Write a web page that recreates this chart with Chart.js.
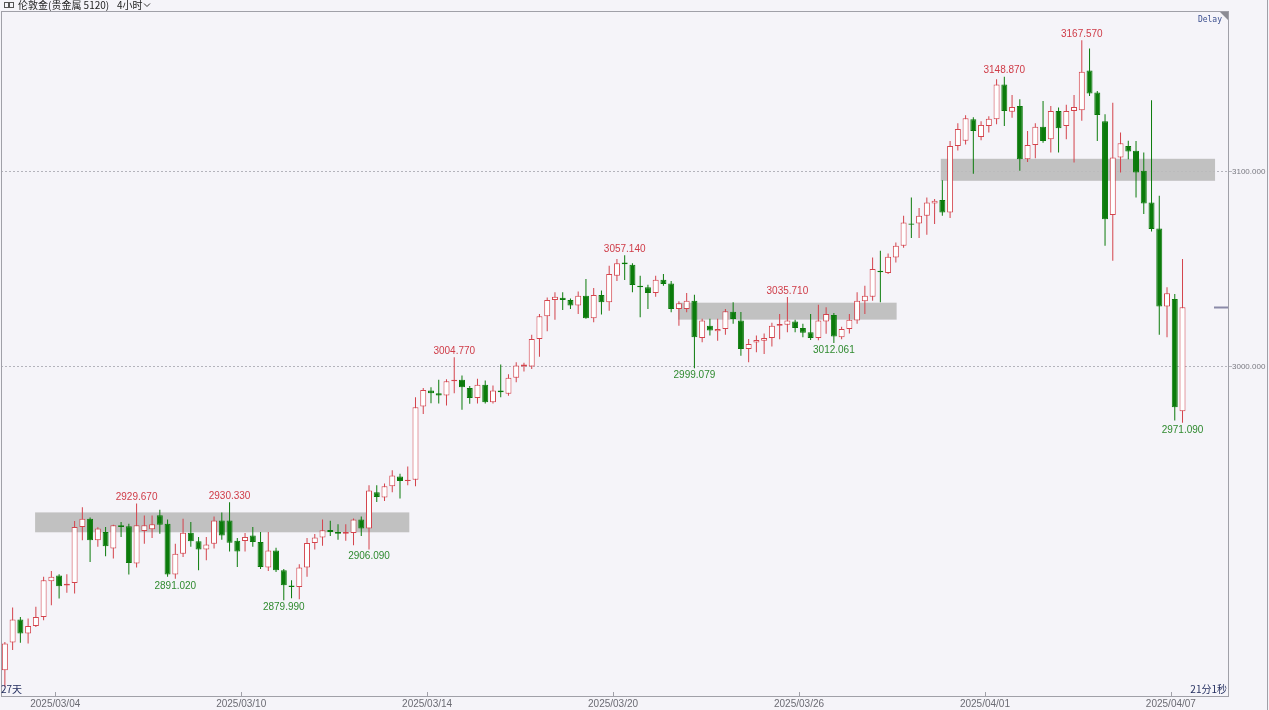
<!DOCTYPE html>
<html>
<head>
<meta charset="utf-8">
<script src="https://cdn.jsdelivr.net/npm/chart.js@4.4.1/dist/chart.umd.min.js"></script>
<style>
  html, body { margin: 0; padding: 0; background: #f5f4f9; }
  #wrap { width: 1269px; height: 710px; position: relative; }
</style>
</head>
<body>
<div id="wrap"><canvas id="kline"></canvas></div>
<script>
// 4h candles, London gold, oldest first
const opens = [2844.1,2858.3,2870.1,2862.9,2866.8,2871.4,2889.7,2892.7,2887.5,2888.9,
  2917.6,2921.9,2910.8,2915.0,2906.5,2918.5,2918.0,2898.8,2915.5,2916.5,
  2923.6,2919.3,2893.2,2903.9,2914.7,2910.3,2906.0,2909.0,2921.0,2921.0,
  2910.5,2910.4,2913.3,2909.9,2896.8,2905.6,2895.4,2887.5,2886.8,2896.8,
  2909.4,2912.2,2916.0,2915.0,2914.2,2914.5,2921.4,2916.8,2935.5,2932.7,
  2938.5,2943.6,2941.2,2941.9,2979.5,2987.7,2986.3,2985.1,2992.5,2993.2,
  2989.0,2983.9,2990.6,2981.7,2987.7,2986.0,2994.2,3000.0,3000.0,3014.2,
  3025.8,3034.2,3035.3,3034.2,3031.3,3036.4,3024.8,3036.8,3033.0,3046.7,
  3053.5,3052.3,3041.5,3040.7,3037.8,3044.6,3042.7,3029.6,3029.6,3033.8,
  3014.7,3021.0,3018.1,3019.3,3028.2,3023.6,3009.0,3012.3,3013.3,3014.7,
  3021.0,3021.5,3023.2,3019.8,3017.6,3014.7,3023.2,3026.5,3015.0,3019.3,
  3023.6,3033.5,3035.9,3049.2,3048.0,3056.0,3062.0,3073.5,3073.5,3077.4,
  3083.8,3085.5,3079.1,3113.3,3116.0,3127.0,3117.9,3123.6,3127.0,3144.9,
  3130.9,3133.8,3106.5,3113.8,3123.1,3116.8,3131.3,3123.6,3131.3,3131.6,
  3152.1,3140.7,3126.0,3077.8,3107.3,3113.3,3110.8,3100.5,3084.3,3070.9,
  3030.9,3034.7,2977.1];
const highs = [2858.5,2876.3,2871.4,2870.6,2876.6,2892.0,2895.0,2893.3,2893.3,2920.7,
  2927.8,2922.5,2917.5,2917.6,2918.8,2920.2,2919.3,2929.67,2923.5,2923.5,
  2926.5,2921.5,2909.0,2921.9,2920.2,2912.5,2912.5,2923.0,2925.0,2930.33,
  2912.0,2914.5,2917.6,2915.0,2915.0,2907.0,2896.0,2890.3,2898.5,2912.0,
  2914.0,2921.4,2920.8,2919.0,2919.0,2922.0,2923.0,2939.0,2939.0,2940.0,
  2946.7,2945.0,2948.7,2984.3,2989.0,2989.4,2993.2,2993.5,3004.77,2995.4,
  2990.0,2993.7,2992.8,2990.3,3001.0,2996.0,3002.2,3002.0,3016.4,3027.0,
  3035.5,3038.1,3038.1,3035.0,3038.6,3045.0,3040.3,3039.0,3051.8,3055.2,
  3057.14,3053.0,3046.7,3042.0,3046.7,3047.5,3044.0,3033.5,3037.8,3036.9,
  3024.5,3024.5,3024.5,3029.6,3033.0,3028.0,3014.2,3016.0,3017.0,3022.5,
  3027.0,3035.71,3024.0,3022.0,3027.0,3031.8,3030.4,3027.5,3020.5,3027.0,
  3038.1,3041.5,3056.0,3059.5,3058.0,3063.7,3077.4,3086.8,3081.4,3086.8,
  3086.0,3095.7,3115.9,3125.0,3129.0,3128.0,3126.0,3128.5,3147.5,3148.87,
  3139.5,3137.3,3121.0,3125.0,3136.4,3133.8,3133.0,3134.4,3139.5,3167.57,
  3163.4,3141.5,3129.6,3135.5,3120.2,3116.0,3115.9,3109.9,3136.8,3087.7,
  3040.7,3037.3,3055.2];
const lows = [2835.5,2854.4,2858.2,2857.8,2866.3,2869.7,2877.4,2880.9,2883.8,2883.4,
  2910.8,2899.6,2907.4,2902.6,2901.4,2912.5,2893.2,2896.8,2909.0,2912.0,
  2914.2,2892.0,2891.02,2902.2,2907.4,2895.4,2900.5,2906.5,2911.0,2905.0,
  2897.0,2905.0,2907.4,2896.0,2895.0,2894.5,2879.99,2881.0,2880.5,2892.0,
  2906.0,2908.0,2913.0,2911.0,2910.5,2908.2,2913.0,2906.09,2930.4,2930.9,
  2935.5,2932.3,2939.0,2938.5,2975.7,2981.2,2981.0,2980.0,2986.3,2977.8,
  2980.9,2981.0,2981.0,2981.0,2984.3,2985.0,2992.0,2997.5,2998.8,3005.1,
  3018.1,3024.1,3029.1,3029.5,3027.0,3024.5,3022.7,3026.7,3028.7,3044.0,
  3044.4,3038.1,3025.3,3029.6,3035.9,3041.5,3027.9,3021.0,3027.9,2999.079,
  3012.5,3015.9,3013.3,3016.4,3022.0,3005.6,3002.2,3007.3,3006.5,3010.3,
  3014.0,3017.6,3017.6,3015.0,3013.7,3013.5,3016.8,3012.061,3014.0,3017.0,
  3022.0,3027.0,3033.8,3033.0,3047.5,3053.5,3061.0,3066.0,3066.0,3067.7,
  3073.2,3077.4,3076.3,3111.0,3114.0,3099.0,3116.2,3120.2,3124.4,3123.6,
  3127.8,3100.5,3105.0,3107.0,3115.0,3109.9,3109.9,3116.8,3104.8,3126.2,
  3139.0,3115.9,3062.0,3054.4,3099.6,3106.5,3086.8,3078.3,3069.4,3016.4,
  3015.0,2972.3,2971.09];
const closes = [2857.8,2870.1,2862.9,2866.8,2871.4,2890.3,2892.0,2887.2,2888.5,2917.6,
  2921.9,2910.8,2916.8,2907.7,2918.5,2917.6,2899.1,2918.5,2918.5,2919.0,
  2918.8,2893.2,2903.9,2914.7,2910.3,2906.0,2908.6,2921.0,2913.3,2909.5,
  2905.0,2912.5,2909.9,2897.1,2905.6,2895.4,2887.7,2886.8,2896.8,2909.4,
  2912.2,2915.9,2915.0,2914.2,2915.0,2921.4,2916.8,2936.4,2933.0,2938.5,
  2944.1,2941.2,2941.9,2979.1,2988.0,2986.3,2985.1,2992.5,2993.2,2989.4,
  2983.9,2990.6,2981.7,2987.7,2986.8,2994.2,3000.5,3001.0,3014.2,3025.8,
  3034.2,3035.9,3034.2,3031.3,3036.4,3024.8,3036.8,3033.0,3047.5,3053.0,
  3052.5,3041.9,3040.7,3037.8,3044.6,3042.4,3029.6,3032.5,3033.8,3015.0,
  3023.6,3018.5,3019.3,3028.4,3024.4,3009.0,3011.6,3013.7,3014.7,3021.0,
  3021.9,3023.6,3019.8,3017.3,3014.7,3023.6,3027.0,3015.4,3019.3,3024.0,
  3033.8,3036.4,3050.1,3048.4,3056.4,3062.0,3074.0,3072.8,3077.4,3084.3,
  3085.1,3079.1,3113.3,3122.0,3127.5,3121.0,3124.1,3127.3,3144.9,3131.3,
  3133.3,3106.5,3113.8,3123.1,3115.9,3131.3,3122.4,3131.3,3133.3,3151.4,
  3140.2,3129.2,3075.7,3107.3,3114.7,3110.4,3099.6,3083.8,3070.6,3030.9,
  3037.6,2979.1,3030.4];

// date labels sit on the boundary before the first bar of the day
const dateTicks = [6.5, 30.5, 54.5, 78.5, 102.5, 126.5, 150.5];
const dateLabels = ['2025/03/04', '2025/03/10', '2025/03/14', '2025/03/20', '2025/03/26', '2025/04/01', '2025/04/07'];
const priceTicks = [3000, 3100];

// high / low marks written on the chart
const markIdx = [17, 29, 22, 36, 47, 58, 80, 89, 101, 107, 129, 139, 152];
const markSide = ['high','high','low','low','low','high','high','low','high','low','high','high','low'];
const markPrice = [2929.67, 2930.33, 2891.02, 2879.99, 2906.09, 3004.77, 3057.14, 2999.079, 3035.71, 3012.061, 3148.87, 3167.57, 2971.09];

// grey support / resistance zones (bar index range, price range)
const zoneFrom = [3.9, 86.9, 120.8];
const zoneTo = [52.2, 115.1, 156.2];
const zoneLow = [2914.9, 3024.1, 3095.4];
const zoneHigh = [2925.1, 3032.8, 3106.7];

const UP = '#d4434c';
const DOWN = '#0b7b0b';

const isUp = opens.map((o, i) => closes[i] >= o);
const bodies = opens.map((o, i) => ({ x: i, y: [o, closes[i]] }));
const wicks = lows.map((l, i) => ({ x: i, y: [l, highs[i]] }));

const overlay = {
  id: 'overlay',
  beforeDraw(chart) {
    const ctx = chart.ctx;
    ctx.save();
    ctx.fillStyle = '#f5f4f9';
    ctx.fillRect(0, 0, chart.width, chart.height);
    ctx.restore();
  },
  beforeDatasetsDraw(chart) {
    const { ctx, scales: { x, y } } = chart;
    ctx.save();
    ctx.fillStyle = 'rgba(188,188,188,0.92)';
    for (let i = 0; i < zoneFrom.length; i++) {
      const x0 = x.getPixelForValue(zoneFrom[i]);
      const x1 = x.getPixelForValue(zoneTo[i]);
      const y0 = y.getPixelForValue(zoneHigh[i]);
      const y1 = y.getPixelForValue(zoneLow[i]);
      ctx.fillRect(x0, y0, x1 - x0, y1 - y0);
    }
    ctx.restore();
  },
  afterDatasetsDraw(chart) {
    const { ctx, chartArea: a, scales: { x, y } } = chart;
    ctx.save();

    // high / low values
    ctx.font = '10px "Liberation Sans", Arial, sans-serif';
    ctx.textAlign = 'center';
    for (let i = 0; i < markIdx.length; i++) {
      const px = x.getPixelForValue(markIdx[i]);
      const py = y.getPixelForValue(markPrice[i]);
      if (markSide[i] === 'high') {
        ctx.fillStyle = '#cf3b47';
        ctx.textBaseline = 'bottom';
        ctx.fillText(markPrice[i].toFixed(3), px, py - 1);
      } else {
        ctx.fillStyle = '#2f8a2f';
        ctx.textBaseline = 'top';
        ctx.fillText(markPrice[i].toFixed(3), px, py + 2);
      }
    }

    // last price marker at the right edge
    const lastY = Math.round(y.getPixelForValue(closes[closes.length - 1])) + 0.5;
    ctx.strokeStyle = '#8a8aa8';
    ctx.lineWidth = 2;
    ctx.beginPath();
    ctx.moveTo(a.right - 15, lastY);
    ctx.lineTo(a.right, lastY);
    ctx.stroke();

    // frame
    ctx.lineWidth = 1;
    ctx.strokeStyle = '#a0a0a8';
    ctx.strokeRect(a.left + 0.5, a.top + 0.5, a.right - a.left - 1, a.bottom - a.top - 1);
    ctx.beginPath();
    ctx.moveTo(chart.width - 1.5, 0);
    ctx.lineTo(chart.width - 1.5, chart.height);
    ctx.stroke();

    // date tick marks inside the bottom edge
    ctx.strokeStyle = '#a0a0a8';
    dateTicks.forEach(v => {
      const px = Math.round(x.getPixelForValue(v)) + 0.5;
      ctx.beginPath();
      ctx.moveTo(px, a.bottom - 5);
      ctx.lineTo(px, a.bottom);
      ctx.stroke();
    });

    // corner triangle + Delay
    ctx.fillStyle = '#8c8c94';
    ctx.beginPath();
    ctx.moveTo(a.right - 9, a.top + 1);
    ctx.lineTo(a.right - 1, a.top + 1);
    ctx.lineTo(a.right - 1, a.top + 9);
    ctx.closePath();
    ctx.fill();
    ctx.fillStyle = '#3b4f8f';
    ctx.font = '8px "DejaVu Sans Mono", monospace';
    ctx.textAlign = 'right';
    ctx.textBaseline = 'middle';
    ctx.fillText('Delay', a.right - 7, a.top + 9);

    // corner texts
    ctx.font = '10px "Noto Sans CJK SC", sans-serif';
    ctx.fillStyle = '#1f2a5c';
    ctx.textAlign = 'left';
    ctx.fillText('27天', a.left, a.bottom - 8);
    ctx.textAlign = 'right';
    ctx.fillText('21分1秒', a.right - 2, a.bottom - 8);

    // title bar
    ctx.strokeStyle = '#555';
    ctx.strokeRect(4.5, 2.5, 4, 5);
    ctx.strokeRect(9.5, 2.5, 4, 5);
    ctx.fillStyle = '#222';
    ctx.textAlign = 'left';
    ctx.textBaseline = 'middle';
    ctx.font = '10px "Noto Sans CJK SC", sans-serif';
    ctx.fillText('伦敦金(贵金属 5120)', 18, 5);
    ctx.fillText('4小时', 117, 5);
    ctx.beginPath();
    ctx.strokeStyle = '#333';
    ctx.moveTo(144, 3.5);
    ctx.lineTo(147, 6.5);
    ctx.lineTo(150, 3.5);
    ctx.stroke();
    ctx.restore();
  }
};

new Chart(document.getElementById('kline'), {
  type: 'bar',
  data: {
    datasets: [
      {
        label: 'body',
        data: bodies,
        order: 0,
        grouped: false,
        barThickness: 6,
        minBarLength: 1,
        borderWidth: 1,
        borderSkipped: false,
        inflateAmount: 0,
        backgroundColor: isUp.map(u => u ? '#ffffff' : DOWN),
        borderColor: isUp.map(u => u ? UP : DOWN)
      },
      {
        label: 'wick',
        data: wicks,
        order: 1,
        grouped: false,
        barThickness: 1,
        borderWidth: 0,
        inflateAmount: 0,
        backgroundColor: isUp.map(u => u ? UP : DOWN)
      }
    ]
  },
  options: {
    responsive: true,
    maintainAspectRatio: false,
    animation: false,
    layout: { padding: { top: 11, left: 1, right: 0, bottom: 0 } },
    plugins: { legend: { display: false }, tooltip: { enabled: false } },
    scales: {
      x: {
        type: 'linear',
        min: -0.5,
        max: 158,
        offset: false,
        grid: { display: false, drawTicks: false },
        border: { display: false },
        afterBuildTicks: s => { s.ticks = dateTicks.map(v => ({ value: v })); },
        afterFit: s => { s.height = 13; },
        ticks: {
          autoSkip: false,
          maxRotation: 0,
          padding: 1,
          color: '#6b6b73',
          font: { family: '"Liberation Sans", Arial, sans-serif', size: 10 },
          callback: (v, i) => dateLabels[i]
        }
      },
      y: {
        position: 'right',
        min: 2830.3,
        max: 3182.6,
        afterBuildTicks: s => { s.ticks = priceTicks.map(v => ({ value: v })); },
        afterFit: s => { s.width = 40; },
        border: { display: false, dash: [2, 2] },
        grid: { color: '#b4b4bc', tickLength: 3, tickColor: '#b4b4bc' },
        ticks: {
          padding: 0,
          color: '#7a7a82',
          font: { family: '"Liberation Sans", Arial, sans-serif', size: 8 },
          callback: v => v.toFixed(3)
        }
      }
    }
  },
  plugins: [overlay]
});
</script>
</body>
</html>
